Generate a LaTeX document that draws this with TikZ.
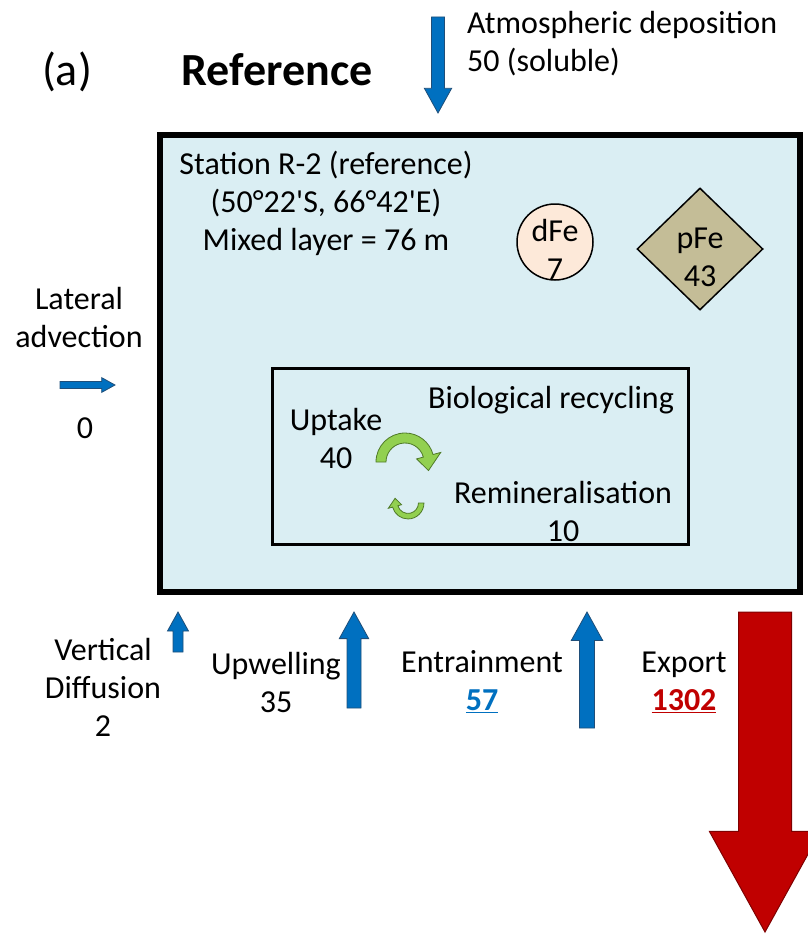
\documentclass[tikz,border=0pt]{standalone}
\usepackage{fontspec}
\setmainfont{Carlito}
\usetikzlibrary{shapes.geometric}

\definecolor{layerblue}{HTML}{DAEEF3}
\definecolor{fluxblue}{HTML}{0070C0}
\definecolor{fluxedge}{HTML}{1F4E79}
\definecolor{exportred}{HTML}{C00000}
\definecolor{exportedge}{HTML}{7F0000}
\definecolor{turngreen}{HTML}{92D050}
\definecolor{turnedge}{HTML}{4F7A28}
\definecolor{dfefill}{HTML}{FDE9D9}
\definecolor{pfefill}{HTML}{C4BD97}

% block arrow: style, x, y (tail), angle, length, shaft width
\newcommand{\fluxarrow}[6]{%
  \draw[#1,shift={(#2,#3)},rotate=#4]
    (0,{-#6/2}) -- ({#5-1.9*#6},{-#6/2}) -- ({#5-1.9*#6},{-1.05*#6})
    -- (#5,0) -- ({#5-1.9*#6},{1.05*#6}) -- ({#5-1.9*#6},{#6/2})
    -- (0,{#6/2}) -- cycle;}
% curved arrow round the origin
\newcommand{\turnpath}{(180:29) arc[start angle=180,end angle=345,radius=29]
    -- (345:37) -- (20:25) -- (345:12) -- (345:19)
    arc[start angle=345,end angle=180,radius=19] -- cycle}

\begin{document}
\begin{tikzpicture}[x=1pt,y=-1pt,
    txt/.style={font=\fontsize{32}{38}\selectfont,align=center,inner sep=0pt},
    title/.style={font=\fontsize{46}{50}\selectfont,inner sep=0pt},
    flux/.style={fill=fluxblue,draw=fluxedge,line width=0.8pt},
    export/.style={fill=exportred,draw=exportedge,line width=1pt},
    turn/.style={fill=turngreen,draw=turnedge,line width=0.8pt}]
    \useasboundingbox (0,0) rectangle (807,934);
    % Mixed layer and recycling boxes
    \node[draw,line width=6pt,fill=layerblue,minimum width=640,minimum height=457] (layer) at (480,363.5) {};
    \node[draw,line width=3pt,minimum width=416,minimum height=176] (recycling) at (480,456) {};
    % Headings
    \node[title] (panel) at (67,72) {(a)};
    \node[title,font=\fontsize{46}{50}\selectfont\bfseries] (heading) at (277,70) {Reference};
    \node[txt] (station) at (326,203) {Station R-2 (reference)\\(50°22\textquotesingle S, 66°42\textquotesingle E)\\Mixed layer = 76 m};
    % Iron pools
    \node[draw,circle,fill=dfefill,line width=1.5pt,minimum size=76,inner sep=0pt] (dfe) at (555,242) {};
    \node[txt] (dfetxt) at ([yshift=-7pt]dfe.center) {dFe\\7};
    \node[draw,diamond,fill=pfefill,line width=1.5pt,minimum width=126,minimum height=122,inner sep=0pt] (pfe) at (700,249) {};
    \node[txt] (pfetxt) at ([yshift=-8pt]pfe.center) {pFe\\43};
    % Biological recycling
    \node[txt] (biorec) at (551,400) {Biological recycling};
    \node[txt] (uptake) at (336,438) {Uptake\\40};
    \node[txt] (remin) at (563,511) {Remineralisation\\10};
    \draw[turn,shift={(405,462)}] \turnpath;
    \draw[turn,shift={(408,503)},rotate=180,scale=0.55] \turnpath;
    % Fluxes
    \node[txt,anchor=west,align=left] (atmos) at (467,44) {Atmospheric deposition\\50 (soluble)};
    \node[txt] (lateral) at (79,318) {Lateral\\advection};
    \node[txt] (latval) at (85,428) {0};
    \node[txt] (vertdiff) at (103,687) {Vertical\\Diffusion\\2};
    \node[txt] (upwell) at (276,682) {Upwelling\\35};
    \node[txt] (entrain) at (482,682) {Entrainment\\\textcolor{fluxblue}{\textbf{\underline{57}}}};
    \node[txt] (export) at (684,682) {Export\\\textcolor{exportred}{\textbf{\underline{1302}}}};
    \fluxarrow{flux}{438}{17}{-90}{96}{13}
    \fluxarrow{flux}{60}{385}{0}{55}{7}
    \fluxarrow{flux}{178}{652}{90}{40}{10}
    \fluxarrow{flux}{354}{708}{90}{96}{14}
    \fluxarrow{flux}{587}{728}{90}{116}{15}
    \fluxarrow{export}{765}{612}{-90}{320}{53}
\end{tikzpicture}
\end{document}
